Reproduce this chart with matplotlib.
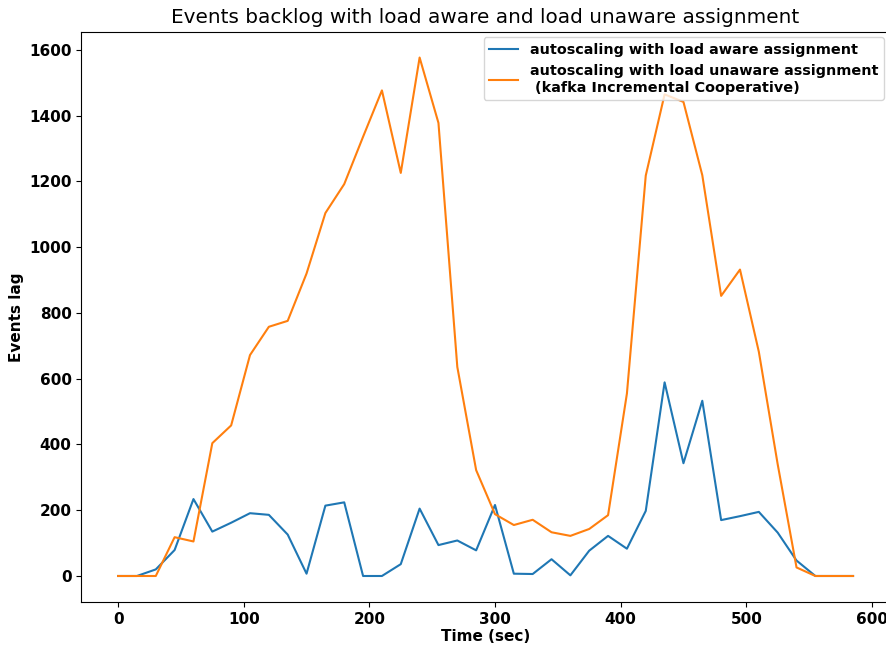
import numpy as np
import matplotlib
matplotlib.use("Agg")
import matplotlib.pyplot as plt

# time axis (sec), one sample every 15 s
time_sec = list(range(0, 600, 15))

# events lag, load aware assignment
lag_aware = [0, 0, 20, 79, 234, 135, 162, 191, 186, 126,
             7, 214, 224, 0, 0, 36, 205, 94, 108, 78,
             216, 7, 6, 51, 2, 77, 122, 83, 198, 589,
             343, 533, 170, 182, 195, 132, 47, 0, 0, 0]

# events lag, load unaware assignment (kafka incremental cooperative)
lag_unaware = [0, 0, 0, 118, 105, 404, 458, 672, 758, 776,
               920, 1104, 1192, 1336, 1477, 1226, 1577, 1378, 636, 322,
               188, 155, 171, 133, 122, 143, 185, 555, 1218, 1465,
               1442, 1219, 852, 932, 682, 340, 26, 0, 0, 0]

label_aware = "autoscaling with load aware assignment"
label_unaware = "autoscaling with load unaware assignment\n (kafka Incremental Cooperative)"

fig = plt.figure(figsize=(8.86, 6.45), dpi=100)
# axes run a little past the right edge, like the cropped original
ax = fig.add_axes([0.0918, 0.0668, 0.9125, 0.8842])

ax.plot(time_sec, lag_aware, label=label_aware)
ax.plot(time_sec, lag_unaware, label=label_unaware)

ax.set_title("Events backlog with load aware and load unaware assignment", fontsize=14.4)
ax.set_xlabel("Time (sec)", fontsize=11, fontweight="bold", labelpad=2)
ax.set_ylabel("Events lag", fontsize=11, fontweight="bold")

for lbl in ax.get_xticklabels() + ax.get_yticklabels():
    lbl.set_fontweight("bold")
ax.tick_params(labelsize=11)

ax.legend(loc="upper right", prop={"weight": "bold", "size": 10.4},
          borderaxespad=0.4)

fig.savefig("out.png", dpi=100)
